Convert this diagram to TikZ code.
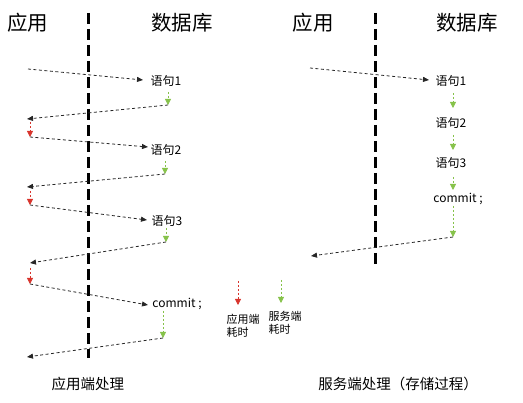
\documentclass[tikz,border=0pt]{standalone}
\usepackage{fontspec}
\setmainfont{Noto Sans CJK SC}
\usetikzlibrary{arrows.meta}
\definecolor{appred}{HTML}{D8342C}
\definecolor{srvgreen}{HTML}{86C24A}
\tikzset{
  title/.style={font=\fontsize{20.5}{22}\selectfont, inner sep=0pt},
  stmt/.style={font=\fontsize{12}{13}\selectfont, inner sep=0pt},
  caption/.style={font=\fontsize{14.5}{16}\selectfont, inner sep=0pt},
  legend/.style={font=\fontsize{11}{13.5}\selectfont, inner sep=0pt, align=left},
  divider/.style={line width=3pt, dash pattern=on 11pt off 5pt},
  call/.style={draw=black!85, line width=0.8pt, dash pattern=on 3pt off 2.5pt, -{Triangle[length=6pt,width=5pt]}},
  apptime/.style={draw=appred, line width=0.8pt, dash pattern=on 2pt off 2pt, -{Triangle[length=6pt,width=6pt]}},
  srvtime/.style={draw=srvgreen, line width=0.8pt, dash pattern=on 2pt off 2pt, -{Triangle[length=6pt,width=6pt]}},
}
\begin{document}
\begin{tikzpicture}[x=1pt,y=-1pt]
\useasboundingbox (0,0) rectangle (523,403);
% ---------- left panel ----------
\node[title] (lapp) at (28,23) {应用};
\node[title] (ldb) at (182,23) {数据库};
\coordinate (ltop) at (88,13);
\coordinate (lbot) at (88,358);
\draw[divider] (ltop) -- (lbot);

\node[stmt] (ls1) at (166,81) {语句1};
\node[stmt] (ls2) at (166,150) {语句2};
\node[stmt] (ls3) at (167,221) {语句3};
\node[stmt] (lcm) at (177,304) {commit ;};

\coordinate (a0) at (28,69);
\coordinate (a0e) at (143,80);
\draw[call] (a0) -- (a0e);
\coordinate (g1s) at (168,92);
\coordinate (g1e) at (168,105);
\draw[srvtime] (g1s) -- (g1e);
\coordinate (r1e) at (27,119);
\draw[call] (g1e) -- (r1e);
\coordinate (p1s) at (30,122);
\coordinate (p1e) at (30,137);
\draw[apptime] (p1s) -- (p1e);
\coordinate (a1e) at (148,147);
\draw[call] (p1e) -- (a1e);

\coordinate (g2s) at (165,161);
\coordinate (g2e) at (165,174);
\draw[srvtime] (g2s) -- (g2e);
\coordinate (r2e) at (27,187);
\draw[call] (g2e) -- (r2e);
\coordinate (p2s) at (30,191);
\coordinate (p2e) at (30,205);
\draw[apptime] (p2s) -- (p2e);
\coordinate (a2e) at (147,220);
\draw[call] (p2e) -- (a2e);

\coordinate (g3s) at (166,228);
\coordinate (g3e) at (166,242);
\draw[srvtime] (g3s) -- (g3e);
\coordinate (r3e) at (30,263);
\draw[call] (g3e) -- (r3e);
\coordinate (p3s) at (30,268);
\coordinate (p3e) at (30,284);
\draw[apptime] (p3s) -- (p3e);
\coordinate (a3e) at (148,305);
\draw[call] (p3e) -- (a3e);

\coordinate (g4s) at (163,311);
\coordinate (g4e) at (163,338);
\draw[srvtime] (g4s) -- (g4e);
\coordinate (r4e) at (27,357);
\draw[call] (g4e) -- (r4e);

\node[caption] (lcap) at (88,384) {应用端处理};

% ---------- legend ----------
\coordinate (lr1) at (238,281);
\coordinate (lr2) at (238,305);
\draw[apptime] (lr1) -- (lr2);
\coordinate (lg1) at (281,280);
\coordinate (lg2) at (281,303);
\draw[srvtime] (lg1) -- (lg2);
\node[legend] (legapp) at (243,326) {应用端\\耗时};
\node[legend] (legsrv) at (285,323) {服务端\\耗时};

% ---------- right panel ----------
\node[title] (rapp) at (313,23) {应用};
\node[title] (rdb) at (467,23) {数据库};
\coordinate (rtop) at (375,13);
\coordinate (rbot) at (375,268);
\draw[divider] (rtop) -- (rbot);

\node[stmt] (rs1) at (451,81) {语句1};
\node[stmt] (rs2) at (451,123) {语句2};
\node[stmt] (rs3) at (451,163) {语句3};
\node[stmt] (rcm) at (458,199) {commit ;};

\coordinate (b0) at (310,68);
\coordinate (b0e) at (429,80);
\draw[call] (b0) -- (b0e);
\coordinate (h1s) at (453,93);
\coordinate (h1e) at (453,108);
\draw[srvtime] (h1s) -- (h1e);
\coordinate (h2s) at (453,135);
\coordinate (h2e) at (453,150);
\draw[srvtime] (h2s) -- (h2e);
\coordinate (h3s) at (453,177);
\coordinate (h3e) at (453,190);
\draw[srvtime] (h3s) -- (h3e);
\coordinate (h4s) at (453,206);
\coordinate (gre) at (453,237);
\draw[srvtime] (h4s) -- (gre);
\coordinate (rre) at (311,256);
\draw[call] (gre) -- (rre);

\node[caption] (rcap) at (398,384) {服务端处理（存储过程）};
\end{tikzpicture}
\end{document}
